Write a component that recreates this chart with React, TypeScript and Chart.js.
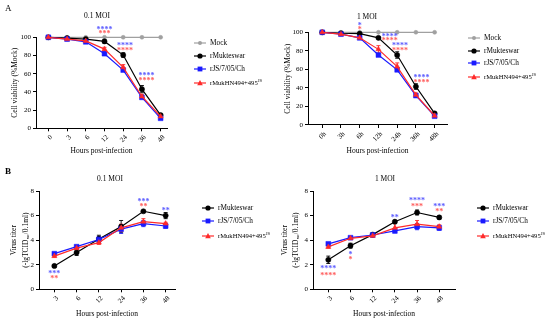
import React, { useEffect, useRef } from "react";
import { Chart, registerables } from "chart.js";
Chart.register(...registerables);

const FONT = "'Liberation Serif', 'Times New Roman', serif";
const C_MOCK = "#a0a0a0";
const C_MUK = "#000000";
const C_JS = "#1a1aff";
const C_HN = "#ff2a2a";
const S_BLUE = "#5a5aff";
const S_RED = "#ff5a5a";

// ---------- Panel A (cell viability, %Mock) ----------
const hoursA1 = ["0", "3", "6", "12", "24", "36", "48"];
const hoursA2 = ["0h", "3h", "6h", "12h", "24h", "36h", "48h"];

const mockA1 = [100, 100, 100, 100, 100, 100, 100];
const mukA1 = [100, 99, 98, 95.5, 80.5, 43, 14.5];
const mukA1Err = [0, 0.5, 0.8, 1.5, 2.5, 4, 1.5];
const jsA1 = [100, 98, 95, 82, 64, 34, 11];
const jsA1Err = [0, 0.5, 1, 2, 1.5, 1.5, 1];
const hnA1 = [100, 98, 96, 87, 67, 35, 13];
const hnA1Err = [0, 0.5, 1, 2, 3, 2, 1];

const mockA2 = [100, 100, 100, 100, 100, 100, 100];
const mukA2 = [100, 99, 98.5, 94, 75.5, 41.5, 12.5];
const mukA2Err = [0, 0.5, 1, 1, 3.5, 3, 1];
const jsA2 = [100, 98, 94, 75.5, 59.5, 31.7, 9.5];
const jsA2Err = [0, 0.5, 1, 1.5, 1.5, 1, 1];
const hnA2 = [100, 98, 94, 81.6, 63, 32.5, 10];
const hnA2Err = [0, 0.5, 1, 4, 4, 2, 1];

// significance marks: x = category index, y = value
const starsA1 = [
  { x: 3, y: 110, t: "****", c: S_BLUE },
  { x: 3, y: 105, t: "***", c: S_RED },
  { x: 4.1, y: 92, t: "****", c: S_BLUE },
  { x: 4.1, y: 87, t: "****", c: S_RED },
  { x: 5.25, y: 59, t: "****", c: S_BLUE },
  { x: 5.25, y: 54, t: "****", c: S_RED },
];
const starsA2 = [
  { x: 2, y: 108.6, t: "*", c: S_BLUE },
  { x: 2, y: 104, t: "*", c: S_RED },
  { x: 3.6, y: 96.4, t: "****", c: S_BLUE },
  { x: 3.6, y: 92, t: "****", c: S_RED },
  { x: 4.15, y: 87.4, t: "****", c: S_BLUE },
  { x: 4.15, y: 82, t: "****", c: S_RED },
  { x: 5.3, y: 52, t: "****", c: S_BLUE },
  { x: 5.3, y: 47, t: "****", c: S_RED },
];

// ---------- Panel B (virus titer) ----------
const hoursB = ["3", "6", "12", "24", "36", "48"];

const mukB1 = [1.9, 3.0, 4.1, 5.1, 6.35, 6.0];
const mukB1Err = [0.1, 0.25, 0.3, 0.5, 0.08, 0.25];
const jsB1 = [2.9, 3.47, 4.05, 4.9, 5.35, 5.15];
const jsB1Err = [0.1, 0.1, 0.25, 0.35, 0.25, 0.18];
const hnB1 = [2.7, 3.35, 3.8, 5.0, 5.5, 5.35];
const hnB1Err = [0.1, 0.1, 0.15, 0.3, 0.25, 0.1];

const mukB2 = [2.4, 3.55, 4.45, 5.5, 6.25, 5.85];
const mukB2Err = [0.3, 0.2, 0.08, 0.08, 0.2, 0.12];
const jsB2 = [3.7, 4.2, 4.42, 4.75, 5.1, 5.0];
const jsB2Err = [0.08, 0.08, 0.08, 0.15, 0.25, 0.2];
const hnB2 = [3.45, 4.15, 4.35, 5.0, 5.3, 5.1];
const hnB2Err = [0.1, 0.1, 0.1, 0.35, 0.3, 0.15];

const starsB1 = [
  { x: 0, y: 1.38, t: "***", c: S_BLUE },
  { x: 0, y: 1.0, t: "**", c: S_RED },
  { x: 4, y: 7.27, t: "***", c: S_BLUE },
  { x: 4, y: 6.8, t: "**", c: S_RED },
  { x: 5, y: 6.53, t: "**", c: S_BLUE },
];
const starsB2 = [
  { x: 0, y: 1.76, t: "****", c: S_BLUE },
  { x: 0, y: 1.22, t: "****", c: S_RED },
  { x: 1, y: 2.93, t: "*", c: S_BLUE },
  { x: 1, y: 2.52, t: "*", c: S_RED },
  { x: 3, y: 5.91, t: "**", c: S_BLUE },
  { x: 4, y: 7.3, t: "****", c: S_BLUE },
  { x: 4, y: 6.8, t: "***", c: S_RED },
  { x: 5, y: 6.8, t: "***", c: S_BLUE },
  { x: 5, y: 6.4, t: "**", c: S_RED },
];

type Series = { label: string; data: number[]; err?: number[]; color: string; style: string; radius: number };
type Spec = {
  labels: string[];
  series: Series[];
  yMax: number;
  yStep: number;
  xMin: number;
  xMax: number;
  pad: { left: number; right: number; top: number; bottom: number };
  yWidth: number;
  xHeight: number;
  yTitle: string | string[];
  yTitleLH: number;
  stars: { x: number; y: number; t: string; c: string }[];
};

const errorBarPlugin = {
  id: "errorBars",
  beforeDatasetsDraw(chart: any) {
    const ctx = chart.ctx;
    const ys = chart.scales.y;
    for (let di = chart.data.datasets.length - 1; di >= 0; di--) {
      const ds = chart.data.datasets[di];
      if (!ds.errors) continue;
      const meta = chart.getDatasetMeta(di);
      meta.data.forEach((pt: any, j: number) => {
        const e = ds.errors[j];
        if (!e) return;
        const v = ds.data[j].y;
        const top = ys.getPixelForValue(v + e);
        const bot = ys.getPixelForValue(v - e);
        ctx.save();
        ctx.strokeStyle = ds.borderColor;
        ctx.lineWidth = 0.9;
        ctx.beginPath();
        ctx.moveTo(pt.x, top);
        ctx.lineTo(pt.x, bot);
        ctx.moveTo(pt.x - 2, top);
        ctx.lineTo(pt.x + 2, top);
        ctx.moveTo(pt.x - 2, bot);
        ctx.lineTo(pt.x + 2, bot);
        ctx.stroke();
        ctx.restore();
      });
    }
  },
};

function makeStarsPlugin(items: Spec["stars"]) {
  return {
    id: "stars",
    afterDraw(chart: any) {
      const ctx = chart.ctx;
      const xs = chart.scales.x;
      const ys = chart.scales.y;
      ctx.save();
      ctx.font = `bold 8px ${FONT}`;
      ctx.textAlign = "center";
      ctx.textBaseline = "middle";
      items.forEach((it) => {
        ctx.fillStyle = it.c;
        ctx.fillText(it.t, xs.getPixelForValue(it.x), ys.getPixelForValue(it.y) + 1.5);
      });
      ctx.restore();
    },
  };
}

function buildConfig(s: Spec): any {
  const tickFont = { family: FONT, size: 7 };
  const titleFont = { family: FONT, size: 7.5 };
  return {
    type: "line",
    data: {
      datasets: s.series.map((se) => ({
        label: se.label,
        data: se.data.map((v, i) => ({ x: i, y: v })),
        errors: se.err,
        borderColor: se.color,
        backgroundColor: se.color,
        borderWidth: 1.2,
        pointStyle: se.style,
        pointRadius: se.radius,
        pointBorderWidth: 0.5,
        pointHoverRadius: se.radius,
        tension: 0,
        clip: false,
      })),
    },
    options: {
      responsive: false,
      animation: false,
      devicePixelRatio: 1,
      events: [],
      layout: { padding: s.pad },
      plugins: { legend: { display: false }, title: { display: false }, tooltip: { enabled: false } },
      scales: {
        x: {
          type: "linear",
          min: s.xMin,
          max: s.xMax,
          afterBuildTicks: (sc: any) => {
            sc.ticks = s.labels.map((_, i) => ({ value: i }));
          },
          afterFit: (sc: any) => {
            sc.height = s.xHeight;
          },
          ticks: {
            callback: (v: any) => s.labels[v] ?? "",
            minRotation: 45,
            maxRotation: 45,
            autoSkip: false,
            padding: 2,
            labelOffset: 3,
            font: tickFont,
            color: "#000",
          },
          grid: { display: true, drawOnChartArea: false, drawTicks: true, tickLength: 3, color: "#000", lineWidth: 1 },
          border: { display: true, color: "#000", width: 1 },
          title: { display: true, text: "Hours post-infection", font: titleFont, color: "#000", padding: 0 },
        },
        y: {
          min: 0,
          max: s.yMax,
          afterFit: (sc: any) => {
            sc.width = s.yWidth;
          },
          ticks: { stepSize: s.yStep, font: tickFont, color: "#000", padding: 2 },
          grid: { display: true, drawOnChartArea: false, drawTicks: true, tickLength: 3, color: "#000", lineWidth: 1 },
          border: { display: true, color: "#000", width: 1 },
          title: {
            display: true,
            text: s.yTitle,
            font: { family: FONT, size: 7.5, lineHeight: s.yTitleLH },
            color: "#000",
            padding: 0,
          },
        },
      },
    },
    plugins: [errorBarPlugin, makeStarsPlugin(s.stars)],
  };
}

function LineChart({ spec }: { spec: Spec }) {
  const ref = useRef<HTMLCanvasElement>(null);
  useEffect(() => {
    const chart = new Chart(ref.current as HTMLCanvasElement, buildConfig(spec));
    return () => chart.destroy();
  }, []);
  return (
    <canvas
      ref={ref}
      width={550}
      height={321}
      style={{ position: "absolute", left: 0, top: 0, width: 550, height: 321 }}
    />
  );
}

const HN_LABEL = "rMukHN494+495JS";

function seriesA(mock: number[], muk: number[], mukE: number[], js: number[], jsE: number[], hn: number[], hnE: number[]): Series[] {
  return [
    { label: HN_LABEL, data: hn, err: hnE, color: C_HN, style: "triangle", radius: 3 },
    { label: "rJS/7/05/Ch", data: js, err: jsE, color: C_JS, style: "rect", radius: 3.4 },
    { label: "rMukteswar", data: muk, err: mukE, color: C_MUK, style: "circle", radius: 2.6 },
    { label: "Mock", data: mock, color: C_MOCK, style: "circle", radius: 2 },
  ];
}
function seriesB(muk: number[], mukE: number[], js: number[], jsE: number[], hn: number[], hnE: number[]): Series[] {
  return [
    { label: HN_LABEL, data: hn, err: hnE, color: C_HN, style: "triangle", radius: 3 },
    { label: "rJS/7/05/Ch", data: js, err: jsE, color: C_JS, style: "rect", radius: 3.4 },
    { label: "rMukteswar", data: muk, err: mukE, color: C_MUK, style: "circle", radius: 2.6 },
  ];
}

const specA1: Spec = {
  labels: hoursA1,
  series: seriesA(mockA1, mukA1, mukA1Err, jsA1, jsA1Err, hnA1, hnA1Err),
  yMax: 100, yStep: 20, xMin: -0.66, xMax: 6.34,
  pad: { left: 11, right: 383, top: 37.3, bottom: 165.5 },
  yWidth: 25, xHeight: 27.2,
  yTitle: "Cell viability (%Mock)", yTitleLH: 1.2,
  stars: starsA1,
};
const specA2: Spec = {
  labels: hoursA2,
  series: seriesA(mockA2, mukA2, mukA2Err, jsA2, jsA2Err, hnA2, hnA2Err),
  yMax: 100, yStep: 20, xMin: -0.76, xMax: 6.66,
  pad: { left: 283.5, right: 103, top: 32.3, bottom: 165.5 },
  yWidth: 24.5, xHeight: 30.5,
  yTitle: "Cell viability (%Mock)", yTitleLH: 1.2,
  stars: starsA2,
};
const specB1: Spec = {
  labels: hoursB,
  series: seriesB(mukB1, mukB1Err, jsB1, jsB1Err, hnB1, hnB1Err),
  yMax: 8, yStep: 2, xMin: -0.69, xMax: 5.42,
  pad: { left: 9, right: 375, top: 191, bottom: 2.5 },
  yWidth: 30, xHeight: 29.2,
  yTitle: ["Virus titer", "(-lgTCID\u2085\u2080/0.1ml)"], yTitleLH: 1.47,
  stars: starsB1,
};
const specB2: Spec = {
  labels: hoursB,
  series: seriesB(mukB2, mukB2Err, jsB2, jsB2Err, hnB2, hnB2Err),
  yMax: 8, yStep: 2, xMin: -0.69, xMax: 5.71,
  pad: { left: 279.5, right: 95, top: 191, bottom: 2.5 },
  yWidth: 33.5, xHeight: 29.2,
  yTitle: ["Virus titer", "(-lgTCID\u2085\u2080/0.1ml)"], yTitleLH: 1.47,
  stars: starsB2,
};

function Marker({ shape, color }: { shape: string; color: string }) {
  if (shape === "rect") return <rect x={3.6} y={1.6} width={4.8} height={4.8} fill={color} />;
  if (shape === "triangle") return <polygon points="6,1 8.8,6.2 3.2,6.2" fill={color} />;
  return <circle cx={6} cy={4} r={shape === "small" ? 2 : 2.6} fill={color} />;
}

function LegendItem({ x, y, color, shape, children }: { x: number; y: number; color: string; shape: string; children: any }) {
  return (
    <div
      style={{
        position: "absolute",
        left: x,
        top: y - 6,
        height: 12,
        display: "flex",
        alignItems: "center",
        fontFamily: FONT,
        fontSize: 7.3,
        whiteSpace: "nowrap",
        color: "#000",
        lineHeight: "12px",
      }}
    >
      <svg width={12} height={8} style={{ marginRight: 4, flex: "none" }}>
        <line x1={0} y1={4} x2={12} y2={4} stroke={color} strokeWidth={1.2} />
        <Marker shape={shape} color={color} />
      </svg>
      <span>{children}</span>
    </div>
  );
}

const HN = (
  <span style={{ fontSize: 6.6 }}>
    rMukHN494+495<span style={{ fontSize: 4.6, position: "relative", top: -3 }}>JS</span>
  </span>
);

function Text({ x, y, size, bold, children, center }: any) {
  return (
    <div
      style={{
        position: "absolute",
        left: center ? x - 50 : x,
        top: y - size * 0.6,
        width: center ? 100 : undefined,
        textAlign: center ? "center" : "left",
        fontFamily: FONT,
        fontSize: size,
        fontWeight: bold ? "bold" : "normal",
        lineHeight: `${size * 1.2}px`,
        color: "#000",
        whiteSpace: "nowrap",
      }}
    >
      {children}
    </div>
  );
}

export default function App() {
  return (
    <div style={{ position: "fixed", left: 0, top: 0, width: 550, height: 321, background: "#fff", overflow: "hidden" }}>
      <LineChart spec={specA1} />
      <LineChart spec={specA2} />
      <LineChart spec={specB1} />
      <LineChart spec={specB2} />

      <Text x={5} y={8} size={9}>A</Text>
      <Text x={5} y={171} size={9} bold>B</Text>
      <Text x={97} y={15} size={7.5} center>0.1 MOI</Text>
      <Text x={367} y={16} size={7.5} center>1 MOI</Text>
      <Text x={110} y={178} size={7.5} center>0.1 MOI</Text>
      <Text x={385} y={178} size={7.5} center>1 MOI</Text>

      <LegendItem x={194} y={43} color={C_MOCK} shape="small">Mock</LegendItem>
      <LegendItem x={194} y={56} color={C_MUK} shape="circle">rMukteswar</LegendItem>
      <LegendItem x={194} y={69} color={C_JS} shape="rect">rJS/7/05/Ch</LegendItem>
      <LegendItem x={194} y={83} color={C_HN} shape="triangle">{HN}</LegendItem>

      <LegendItem x={468} y={38} color={C_MOCK} shape="small">Mock</LegendItem>
      <LegendItem x={468} y={51} color={C_MUK} shape="circle">rMukteswar</LegendItem>
      <LegendItem x={468} y={63} color={C_JS} shape="rect">rJS/7/05/Ch</LegendItem>
      <LegendItem x={468} y={77} color={C_HN} shape="triangle">{HN}</LegendItem>

      <LegendItem x={202} y={208} color={C_MUK} shape="circle">rMukteswar</LegendItem>
      <LegendItem x={202} y={221} color={C_JS} shape="rect">rJS/7/05/Ch</LegendItem>
      <LegendItem x={202} y={236} color={C_HN} shape="triangle">{HN}</LegendItem>

      <LegendItem x={477} y={208} color={C_MUK} shape="circle">rMukteswar</LegendItem>
      <LegendItem x={477} y={221} color={C_JS} shape="rect">rJS/7/05/Ch</LegendItem>
      <LegendItem x={477} y={236} color={C_HN} shape="triangle">{HN}</LegendItem>
    </div>
  );
}
